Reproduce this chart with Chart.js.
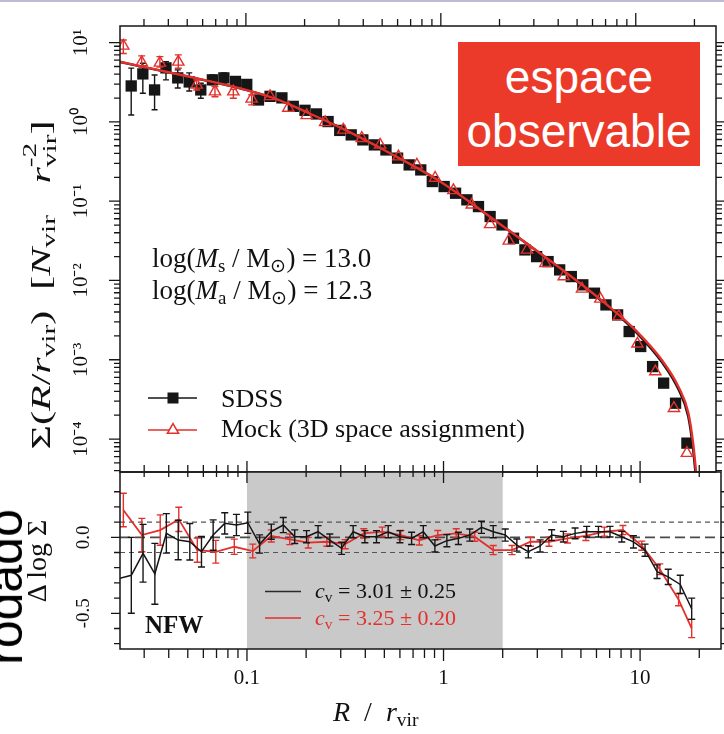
<!DOCTYPE html>
<html lang="fr">
<head>
<meta charset="UTF-8">
<title>Profil Σ(R/r_vir) – SDSS et Mock</title>
<script src="https://cdn.jsdelivr.net/npm/chart.js"></script>
<style>
  html, body { margin: 0; padding: 0; background: #fff; }
  #page { position: relative; width: 724px; height: 734px; overflow: hidden; background: #fff;
          font-family: "Liberation Serif", "Times New Roman", serif; color: #111; }
  #page canvas { position: absolute; left: 0; top: 0; }
  .txt { position: absolute; white-space: nowrap; line-height: 1; }
  .rot { transform: translate(-50%, -50%) rotate(-90deg); }
  .rotwide { transform: translate(-50%, -50%) rotate(-90deg) scale(1.5, 1); }
  .sb { font-size: 0.7em; vertical-align: -0.25em; line-height: 0; }
  .ss { display: inline-block; font-size: 0.7em; line-height: 1; vertical-align: -0.32em; }
  .ss span { display: block; }
  #frame { position: absolute; left: 0; top: 0; width: 724px; height: 2px; background: #bcbcd8; }
  #box { position: absolute; left: 458px; top: 42px; width: 242px; height: 124px; background: #ec3a2a;
         color: #fff; font-family: "Liberation Sans", Arial, sans-serif; font-size: 46px; line-height: 54px;
         text-align: center; padding-top: 8px; box-sizing: border-box; }
  #side { position: absolute; left: 5px; top: 587px; font-family: "Liberation Sans", Arial, sans-serif;
          font-size: 50px; line-height: 1; color: #000; white-space: nowrap; }
</style>
</head>
<body>
<div id="page">
  <canvas id="topChart" width="724" height="734"></canvas>
  <canvas id="botChart" width="724" height="734"></canvas>

  <div id="frame"></div>
  <div id="side" class="rot">rodado</div>

  <div class="txt rotwide" style="left:40px; top:285px; font-size:28px;">Σ(<i>R</i>/<i>r</i><span class="sb">vir</span>)&nbsp;&nbsp;[<i>N</i><span class="sb">vir</span>&nbsp;&nbsp;&nbsp;<i>r</i><span class="ss"><span>-2</span><span>vir</span></span>]</div>
  <div class="txt rot" style="left:37px; top:561px; font-size:28px;">Δ log Σ</div>
  <div class="txt" style="left:333px; top:698px; font-size:28px;"><i>R</i>&nbsp; /&nbsp; <i>r</i><span class="sb">vir</span></div>

  <div class="txt" style="left:152px; top:245px; font-size:27px;">log(<i>M</i><span class="sb">s</span> / M<span class="sb">⊙</span>) = 13.0</div>
  <div class="txt" style="left:152px; top:277px; font-size:27px;">log(<i>M</i><span class="sb">a</span> / M<span class="sb">⊙</span>) = 12.3</div>

  <div class="txt" style="left:221px; top:386px; font-size:26px;">SDSS</div>
  <div class="txt" style="left:221px; top:416px; font-size:26px;">Mock (3D space assignment)</div>

  <div class="txt" style="left:315px; top:580px; font-size:22px;"><i>c</i><span class="sb">v</span> = 3.01 ± 0.25</div>
  <div class="txt" style="left:315px; top:607px; font-size:22px; color:#e2312d;"><i>c</i><span class="sb">v</span> = 3.25 ± 0.20</div>
  <div class="txt" style="left:145px; top:612px; font-size:25px; font-weight:bold;">NFW</div>

  <div id="box">espace<br>observable</div>
</div>

<script>
// ---- axes ----
const xMin = 0.0226, xMax = 25.8;
const sigmaMin = 3.84e-5, sigmaMax = 16.2;
const deltaMin = -0.735, deltaMax = 0.43;

const xMajorTicks = [0.1, 1, 10];
const xMajorLabels = ['0.1', '1', '10'];
const xMinorTicks = [0.03, 0.04, 0.05, 0.06, 0.07, 0.08, 0.09,
                     0.2, 0.3, 0.4, 0.5, 0.6, 0.7, 0.8, 0.9,
                     2, 3, 4, 5, 6, 7, 8, 9, 20];
const sigmaMajorTicks = [1e-4, 1e-3, 1e-2, 1e-1, 1, 10];
const sigmaMajorLabels = ['10⁻⁴', '10⁻³', '10⁻²', '10⁻¹', '10⁰', '10¹'];
const deltaMajorTicks = [-0.5, 0];
const deltaMajorLabels = ['-0.5', '0.0'];
const deltaMinorTicks = [-0.7, -0.6, -0.4, -0.3, -0.2, -0.1, 0.1, 0.2, 0.3];
const deltaRefLines = [0, 0.1, -0.1];
const fitRange = [0.1, 2];

// ---- SDSS (black squares) ----
const sdssX = [0.0225, 0.0258, 0.0296, 0.0340, 0.0389, 0.0447, 0.0512, 0.0587, 0.0673, 0.0771,
               0.0884, 0.101, 0.116, 0.133, 0.153, 0.175, 0.201, 0.230, 0.264, 0.303,
               0.347, 0.398, 0.456, 0.523, 0.600, 0.688, 0.789, 0.904, 1.04, 1.19,
               1.36, 1.56, 1.79, 2.06, 2.36, 2.70, 3.10, 3.55, 4.07, 4.67,
               5.35, 6.14, 7.03, 8.07, 9.25, 10.6, 12.2, 13.9, 16.0, 18.3];
const sdssSigma = [null, 2.84, 4.03, 2.53, 4.80, 3.59, 3.19, 2.53, 3.39, 3.59,
                   3.24, 2.97, 1.89, 2.10, 2.01, 1.57, 1.40, 1.26, 1.01, 0.781,
                   0.686, 0.593, 0.513, 0.443, 0.349, 0.287, 0.248, 0.177, 0.153, 0.126,
                   0.104, 0.0855, 0.0640, 0.0502, 0.0341, 0.0243, 0.0200, 0.0173, 0.0136, 0.0112,
                   0.00881, 0.00691, 0.00492, 0.00368, 0.00227, 0.00147, 0.000820, 0.000507, 0.000283, 0.0000888];
const sdssSigmaLo = [null, 1.22, 2.30, 1.42, 3.39, 2.68, 2.45, 1.99, 2.95, 3.10, 2.85, 2.60];
const sdssSigmaHi = [null, 4.76, 5.50, 3.91, 5.76, 4.53, 4.15, 3.07, 3.90, 4.15, 3.70, 3.35];
const sdssDelta = [-0.27, -0.25, -0.105, -0.24, 0.026, -0.018, -0.029, -0.095, 0.015, 0.092,
                   0.081, 0.096, -0.044, 0.037, 0.081, 0.004, 0.004, 0.037, -0.018, -0.072,
                   0.037, 0.004, 0.004, 0.037, 0.004, -0.007, 0.037, -0.057, -0.022, -0.007,
                   0.015, 0.066, 0.037, 0.015, -0.051, -0.095, -0.057, 0.015, 0.004, 0.026,
                   0.037, 0.037, 0.037, 0.004, -0.03, -0.085, -0.226, -0.26, -0.31, -0.47];
const sdssDeltaErr = [null, 0.25, 0.19, 0.2, 0.13, 0.13, 0.12, 0.1, 0.1, 0.07,
                      0.07, 0.07, 0.06, 0.05, 0.05, 0.045, 0.04, 0.04, 0.04, 0.04,
                      0.04, 0.04, 0.04, 0.04, 0.04, 0.04, 0.04, 0.04, 0.04, 0.04,
                      0.04, 0.04, 0.04, 0.04, 0.04, 0.04, 0.04, 0.035, 0.035, 0.035,
                      0.035, 0.035, 0.035, 0.035, 0.04, 0.04, 0.045, 0.05, 0.06, 0.07];

// ---- Mock (red triangles) ----
const mockX = [0.0235, 0.0292, 0.0362, 0.0450, 0.0559, 0.0694, 0.0862, 0.107, 0.133, 0.165,
               0.205, 0.255, 0.316, 0.393, 0.488, 0.606, 0.753, 0.935, 1.16, 1.44,
               1.79, 2.23, 2.77, 3.44, 4.27, 5.30, 6.58, 8.18, 10.2, 12.6,
               15.7, 18.3];
const mockSigma = [9.09, 5.63, 5.55, 5.71, 2.93, 2.41, 2.41, 1.95, 2.10, 1.50,
                   1.21, 0.986, 0.793, 0.623, 0.513, 0.365, 0.287, 0.196, 0.137, 0.0900,
                   0.0510, 0.0316, 0.0243, 0.0165, 0.0112, 0.00783, 0.00586, 0.00353, 0.00159, 0.000710,
                   0.000245, 0.0000664];
const mockSigmaLo = [7.3, 4.9, 4.9, 4.75, 2.53, 2.08, 1.99, 1.64];
const mockSigmaHi = [10.8, 6.8, 6.65, 7.0, 3.39, 2.79, 2.58, 2.19];
const mockDelta = [0.18, 0.015, 0.048, 0.118, -0.084, -0.095, -0.062, -0.09, 0.009, -0.013,
                   -0.035, -0.029, -0.045, 0.026, 0.037, 0.015, -0.02, 0.015, 0.026, 0.004,
                   -0.084, -0.084, -0.029, -0.029, -0.007, 0.009, 0.037, 0.048, -0.055, -0.21,
                   -0.41, -0.6];
const mockDeltaErr = [0.11, 0.11, 0.1, 0.08, 0.08, 0.075, 0.05, 0.045, 0.04, 0.035,
                      0.035, 0.03, 0.03, 0.03, 0.03, 0.03, 0.03, 0.03, 0.03, 0.03,
                      0.03, 0.03, 0.03, 0.03, 0.03, 0.03, 0.03, 0.03, 0.03, 0.035,
                      0.04, 0.06];

// ---- NFW fits ----
const fitX = [0.0226, 0.0321, 0.0513, 0.100, 0.147, 0.209, 0.315, 0.534, 1.00, 1.94,
              3.92, 7.04, 10.0, 13.7, 16.6, 18.6, 19.7, 20.4];
const fitSdss = [5.71, 4.73, 3.69, 2.53, 1.89, 1.30, 0.816, 0.418, 0.175, 0.0548,
                 0.0153, 0.00492, 0.00225, 0.000914, 0.000417, 0.000191, 0.0000731, 0.0000306];
const fitMock = [5.75, 4.76, 3.71, 2.54, 1.90, 1.30, 0.815, 0.417, 0.175, 0.0550,
                 0.0155, 0.00505, 0.00235, 0.000970, 0.000450, 0.000215, 0.0000880, 0.0000380];

const INK = '#161616', RED = '#e2312d';
Chart.defaults.font.family = '"Liberation Serif", "Times New Roman", serif';
Chart.defaults.color = '#111';

function pts(xs, ys) { return xs.map((x, i) => ({ x: x, y: ys[i] })); }

const sigmaMinorTicks = [];
for (let e = -5; e <= 1; e++) {
  for (let m = 2; m <= 9; m++) {
    const v = m * Math.pow(10, e);
    if (v >= sigmaMin && v <= sigmaMax) sigmaMinorTicks.push(v);
  }
}

function setTicks(major, minor) {
  return function (scale) {
    scale.ticks = major.concat(minor).sort((a, b) => a - b)
      .map(v => ({ value: v, major: major.includes(v) }));
  };
}
function labelFor(major, labels) {
  return function (value) {
    const k = major.findIndex(m => Math.abs(m - value) <= Math.abs(m) * 1e-6 + 1e-9);
    return k >= 0 ? labels[k] : '';
  };
}

// error bars drawn right after their own dataset
const errorBars = {
  id: 'errorBars',
  afterDatasetDraw(chart, args) {
    const ds = chart.data.datasets[args.index];
    if (!ds.errLow) return;
    const { ctx, chartArea: a, scales: { x, y } } = chart;
    ctx.save();
    ctx.beginPath();
    ctx.rect(a.left, a.top, a.right - a.left, a.bottom - a.top);
    ctx.clip();
    ctx.strokeStyle = ds.errColor;
    ctx.lineWidth = 1.4;
    ctx.beginPath();
    ds.data.forEach((p, i) => {
      const lo = ds.errLow[i], hi = ds.errHigh[i];
      if (lo == null || hi == null || p.y == null) return;
      const px = x.getPixelForValue(p.x);
      const y0 = y.getPixelForValue(lo), y1 = y.getPixelForValue(hi);
      const c = ds.capHalf;
      ctx.moveTo(px, y0); ctx.lineTo(px, y1);
      ctx.moveTo(px - c, y0); ctx.lineTo(px + c, y0);
      ctx.moveTo(px - c, y1); ctx.lineTo(px + c, y1);
    });
    ctx.stroke();
    ctx.restore();
  }
};

// box + tick marks on every side
function frameTicks(cfg) {
  return {
    id: 'frameTicks',
    afterDraw(chart) {
      const { ctx, chartArea: a, scales: { x, y } } = chart;
      ctx.save();
      ctx.strokeStyle = INK;
      ctx.lineWidth = 1.3;
      ctx.beginPath();
      x.ticks.forEach(t => {
        const px = x.getPixelForValue(t.value);
        const k = t.major ? 'major' : 'minor';
        if (cfg.top) { ctx.moveTo(px, a.top - cfg.top[k][0]); ctx.lineTo(px, a.top + cfg.top[k][1]); }
        if (cfg.bottom) { ctx.moveTo(px, a.bottom - cfg.bottom[k][0]); ctx.lineTo(px, a.bottom + cfg.bottom[k][1]); }
      });
      y.ticks.forEach(t => {
        const py = y.getPixelForValue(t.value);
        const len = t.major ? cfg.side.major : cfg.side.minor;
        ctx.moveTo(a.left - len, py); ctx.lineTo(a.left, py);
        ctx.moveTo(a.right, py); ctx.lineTo(a.right + len, py);
      });
      ctx.stroke();
      ctx.lineWidth = 1.5;
      ctx.strokeRect(a.left, a.top, a.right - a.left, a.bottom - a.top);
      ctx.restore();
    }
  };
}

// legend keys of the upper panel
const legendKeys = {
  id: 'legendKeys',
  afterDraw(chart) {
    const ctx = chart.ctx;
    ctx.save();
    ctx.lineWidth = 1.5;
    ctx.strokeStyle = INK;
    ctx.beginPath(); ctx.moveTo(148, 398); ctx.lineTo(197, 398); ctx.stroke();
    ctx.fillStyle = INK;
    ctx.fillRect(173 - 5.5, 398 - 5.5, 11, 11);
    ctx.strokeStyle = RED;
    ctx.beginPath(); ctx.moveTo(148, 430); ctx.lineTo(197, 430); ctx.stroke();
    const r = 6.5, cx = 173, cy = 430;
    ctx.fillStyle = '#fff';
    ctx.beginPath();
    ctx.moveTo(cx, cy - r);
    ctx.lineTo(cx + 0.866 * r, cy + 0.5 * r);
    ctx.lineTo(cx - 0.866 * r, cy + 0.5 * r);
    ctx.closePath();
    ctx.fill(); ctx.stroke();
    ctx.restore();
  }
};

// grey fit range + dashed reference lines of the lower panel
const fitBand = {
  id: 'fitBand',
  beforeDatasetsDraw(chart) {
    const { ctx, chartArea: a, scales: { x, y } } = chart;
    ctx.save();
    ctx.fillStyle = '#c9c9c9';
    const x0 = x.getPixelForValue(fitRange[0]), x1 = x.getPixelForValue(fitRange[1]);
    ctx.fillRect(x0, a.top, x1 - x0, a.bottom - a.top);
    deltaRefLines.forEach(v => {
      const py = y.getPixelForValue(v);
      ctx.strokeStyle = v === 0 ? '#4a4a4a' : '#555';
      ctx.lineWidth = v === 0 ? 1.6 : 1.2;
      ctx.setLineDash(v === 0 ? [10, 5] : [5, 4]);
      ctx.beginPath(); ctx.moveTo(a.left, py); ctx.lineTo(a.right, py); ctx.stroke();
    });
    ctx.restore();
  },
  afterDatasetsDraw(chart) {
    const ctx = chart.ctx;
    ctx.save();
    ctx.lineWidth = 1.5;
    ctx.strokeStyle = '#2a2a2a';
    ctx.beginPath(); ctx.moveTo(265, 591.5); ctx.lineTo(301, 591.5); ctx.stroke();
    ctx.strokeStyle = RED;
    ctx.beginPath(); ctx.moveTo(265, 618); ctx.lineTo(301, 618); ctx.stroke();
    ctx.restore();
  }
};

const common = {
  responsive: false,
  animation: false,
  events: [],
  plugins: { legend: { display: false }, tooltip: { enabled: false } }
};

// ---- upper panel ----
new Chart(document.getElementById('topChart'), {
  type: 'scatter',
  data: {
    datasets: [
      { label: 'Mock (3D space assignment)', data: pts(mockX, mockSigma), pointStyle: 'triangle',
        pointRadius: 6.5, pointBorderWidth: 1.4, pointBorderColor: RED, pointBackgroundColor: 'rgba(0,0,0,0)',
        errLow: mockSigmaLo, errHigh: mockSigmaHi, errColor: RED, capHalf: 3.5, clip: 0 },
      { label: 'NFW mock', data: pts(fitX, fitMock), showLine: true, pointRadius: 0,
        borderColor: RED, borderWidth: 2.4, cubicInterpolationMode: 'monotone', clip: 0 },
      { label: 'NFW SDSS', data: pts(fitX, fitSdss), showLine: true, pointRadius: 0,
        borderColor: INK, borderWidth: 2.4, cubicInterpolationMode: 'monotone', clip: 0 },
      { label: 'SDSS', data: pts(sdssX, sdssSigma), pointStyle: 'rect', pointRadius: 8,
        pointBorderWidth: 0, pointBackgroundColor: INK,
        errLow: sdssSigmaLo, errHigh: sdssSigmaHi, errColor: INK, capHalf: 3, clip: 0 }
    ]
  },
  options: Object.assign({}, common, {
    layout: { padding: { left: 0, right: 3, top: 26, bottom: 262 } },
    scales: {
      x: {
        type: 'logarithmic', min: xMin, max: xMax,
        afterBuildTicks: setTicks(xMajorTicks, xMinorTicks),
        afterFit: s => { s.height = 0; s.paddingLeft = 0; s.paddingRight = 0; },
        ticks: { display: false, autoSkip: false },
        grid: { display: false, drawTicks: false },
        border: { display: false }
      },
      y: {
        type: 'logarithmic', position: 'left', min: sigmaMin, max: sigmaMax,
        afterBuildTicks: setTicks(sigmaMajorTicks, sigmaMinorTicks),
        afterFit: s => { s.width = 120; s.paddingTop = 0; s.paddingBottom = 0; },
        ticks: { autoSkip: false, minRotation: 90, maxRotation: 90, crossAlign: 'center', padding: 21,
                 font: { size: 21 }, color: '#111', callback: labelFor(sigmaMajorTicks, sigmaMajorLabels) },
        grid: { display: false, drawTicks: false },
        border: { display: false }
      }
    }
  }),
  plugins: [errorBars, legendKeys, frameTicks({
    top: { major: [13, 0], minor: [7, 0] },
    side: { major: 11, minor: 6 }
  })]
});

// ---- lower panel ----
new Chart(document.getElementById('botChart'), {
  type: 'scatter',
  data: {
    datasets: [
      { label: 'SDSS', data: pts(sdssX, sdssDelta), showLine: true, pointRadius: 0,
        borderColor: INK, borderWidth: 1.5, clip: 0,
        errLow: sdssDelta.map((v, i) => sdssDeltaErr[i] == null ? null : v - sdssDeltaErr[i]),
        errHigh: sdssDelta.map((v, i) => sdssDeltaErr[i] == null ? null : v + sdssDeltaErr[i]),
        errColor: INK, capHalf: 3.5 },
      { label: 'Mock', data: pts(mockX, mockDelta), showLine: true, pointRadius: 0,
        borderColor: RED, borderWidth: 1.8, clip: 0,
        errLow: mockDelta.map((v, i) => v - mockDeltaErr[i]),
        errHigh: mockDelta.map((v, i) => v + mockDeltaErr[i]),
        errColor: RED, capHalf: 3.5 }
    ]
  },
  options: Object.assign({}, common, {
    layout: { padding: { left: 0, right: 3, top: 472, bottom: 45 } },
    scales: {
      x: {
        type: 'logarithmic', min: xMin, max: xMax,
        afterBuildTicks: setTicks(xMajorTicks, xMinorTicks),
        afterFit: s => { s.height = 40; s.paddingLeft = 0; s.paddingRight = 0; },
        ticks: { autoSkip: false, maxRotation: 0, minRotation: 0, padding: 17, font: { size: 21 }, color: '#111',
                 callback: labelFor(xMajorTicks, xMajorLabels) },
        grid: { display: false, drawTicks: false },
        border: { display: false }
      },
      y: {
        type: 'linear', position: 'left', min: deltaMin, max: deltaMax,
        afterBuildTicks: setTicks(deltaMajorTicks, deltaMinorTicks),
        afterFit: s => { s.width = 120; s.paddingTop = 0; s.paddingBottom = 0; },
        ticks: { autoSkip: false, minRotation: 90, maxRotation: 90, crossAlign: 'center', padding: 21,
                 font: { size: 19 }, color: '#111', callback: labelFor(deltaMajorTicks, deltaMajorLabels) },
        grid: { display: false, drawTicks: false },
        border: { display: false }
      }
    }
  }),
  plugins: [fitBand, errorBars, frameTicks({
    top: { major: [11, 11], minor: [7, 5] },
    bottom: { major: [0, 12], minor: [0, 9] },
    side: { major: 9, minor: 6 }
  })]
});
</script>
</body>
</html>
